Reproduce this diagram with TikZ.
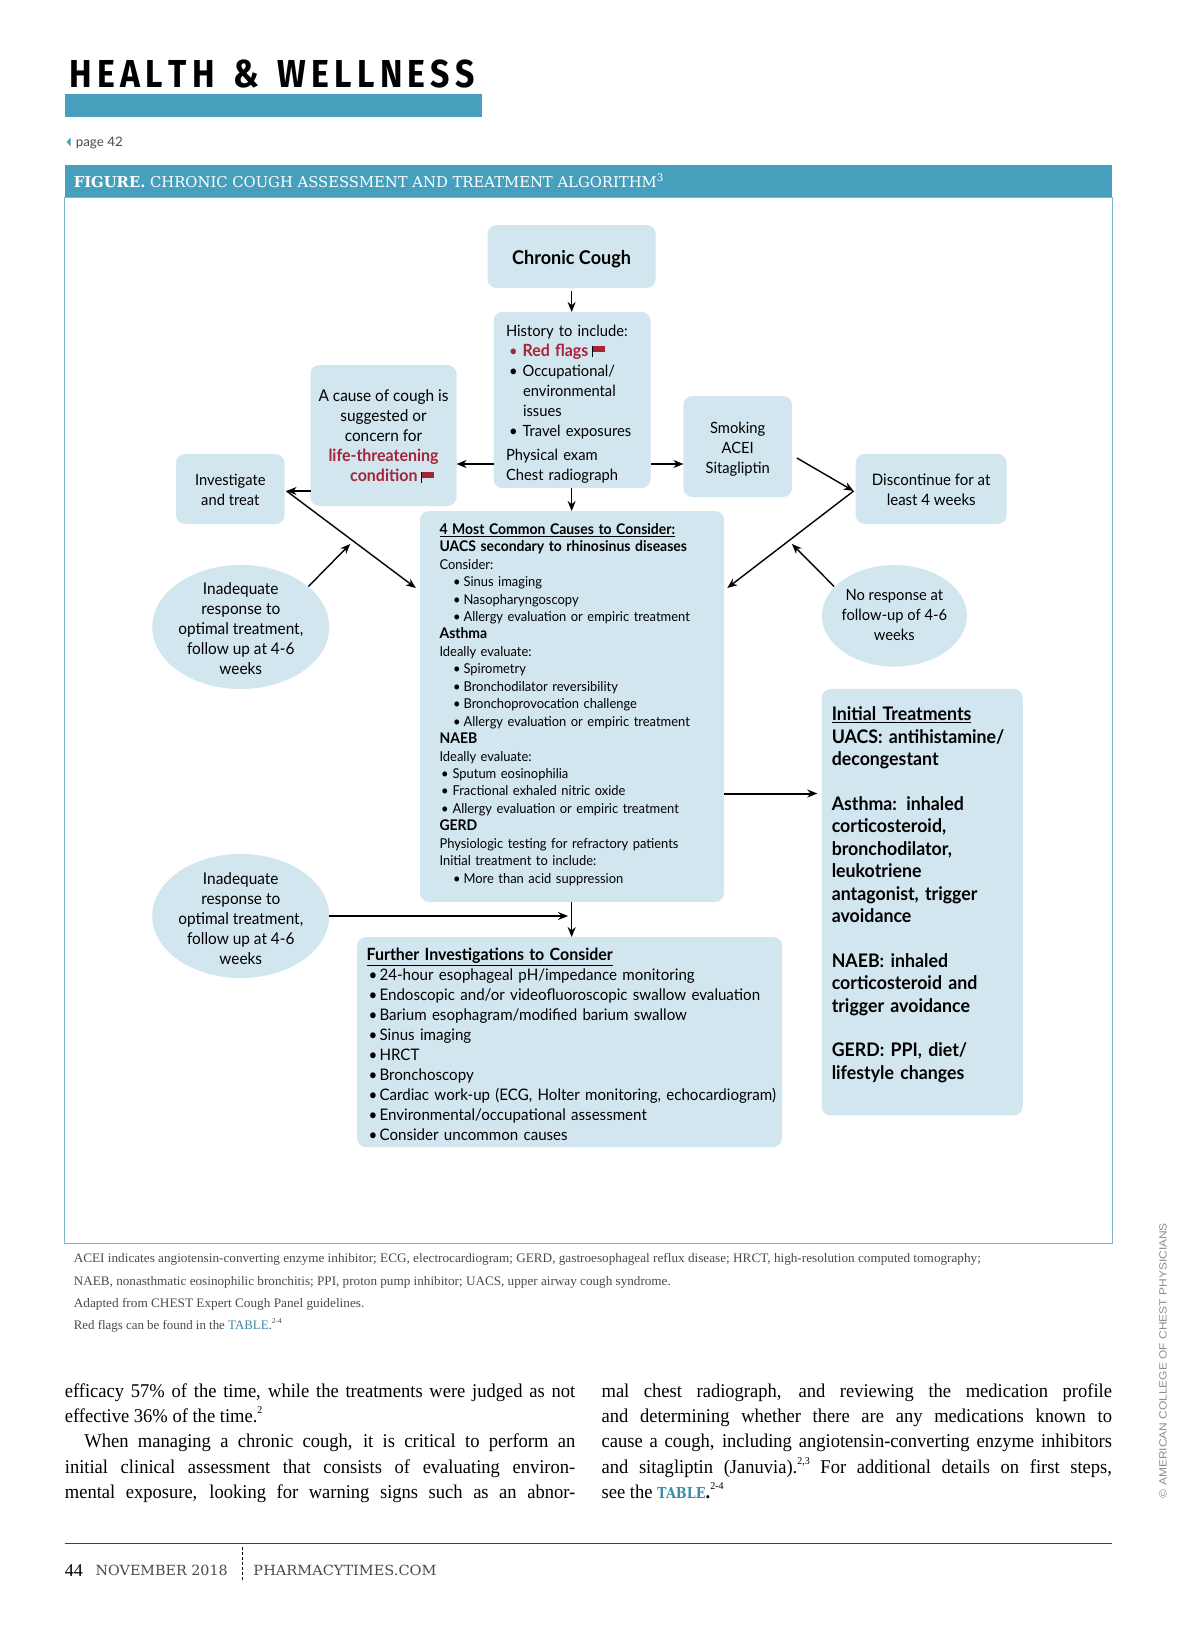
\documentclass[tikz,border=0pt]{standalone}
\usepackage{fontspec}
\usepackage{graphicx}
\setmainfont{Lato}[FakeStretch=0.95]
\newfontfamily\titlefont{Fira Sans}[FakeStretch=0.74]
\newfontfamily\slabfont{DejaVu Serif}
\newfontfamily\capfont{Liberation Serif}
\newfontfamily\bodyfont{Liberation Serif}[FakeStretch=0.95]
\newfontfamily\sidefont{Liberation Sans}
\usetikzlibrary{arrows.meta,shapes.geometric}
\definecolor{boxblue}{HTML}{D2E6F0}
\definecolor{barteal}{HTML}{469FBC}
\definecolor{linkteal}{HTML}{3A8CA8}
\definecolor{framec}{HTML}{7DB4CB}
\definecolor{flagred}{HTML}{A6243A}
\definecolor{greytxt}{HTML}{4A4A4A}
\newcommand\fitw[2]{\resizebox{#1}{\height}{#2}}
\newcommand\bu[2]{\hspace*{#1}\makebox[#2][l]{\textbullet}}
\newcommand\redflag{\kern3.5pt\rule[-1pt]{0.8pt}{11pt}\raisebox{4pt}{\textcolor{flagred}{\rule{12pt}{6pt}}}}
\newcommand\ovaltext[2]{\makebox[0pt]{\raisebox{#1}[0pt][0pt]{\parbox[c]{150pt}{\centering #2}}}}
\newcommand\jline[1]{\makebox[510.4pt][s]{#1}}
\newcommand\tup[1]{\rule{0pt}{#1}}
\newcommand\tdn[1]{\rule[-#1]{0pt}{0pt}}
\newcommand\mb[1]{{\fontsize{14.7}{17.45}\selectfont\bfseries #1}}
\newcommand\hb[1]{{\fontsize{16.8}{20}\selectfont\bfseries #1}}
\newcommand\supb[1]{\raisebox{0.42em}{\fontsize{10.5}{10.5}\selectfont #1}}
\newcommand\supc[1]{\raisebox{0.42em}{\fontsize{7.5}{7.5}\selectfont #1}}
\tikzset{
  box/.style={fill=boxblue,rounded corners=9pt,inner sep=0pt,outer sep=0pt,draw=none},
  leftbox/.style={box,align=left,inner xsep=#1},
  oval/.style={ellipse,fill=boxblue,inner sep=0pt,outer sep=0pt,minimum width=177pt,minimum height=124pt},
  arr/.style={-{Stealth[length=10pt,width=8pt]},line width=1.4pt,black},
  arrb/.style={arr,line width=2pt},
  diag/.style={font=\fontsize{15.5}{20}\selectfont},
  diagw/.style={font=\fontsize{16.2}{20}\selectfont},
  captxt/.style={anchor=base west,inner sep=0pt,font=\capfont\fontsize{13}{14}\selectfont,text=greytxt},
  bodytxt/.style={anchor=base west,inner sep=0pt,font=\bodyfont\fontsize{19.5}{24}\selectfont,text=black},
  foottxt/.style={anchor=base west,inner sep=0pt,font=\slabfont\fontsize{14}{18}\selectfont,text=greytxt},
}
\begin{document}
\begin{tikzpicture}[x=0.99488pt,y=-1pt]
\useasboundingbox (0,0) rectangle (1206.17,1638);
\fill[white] (0,0) rectangle (1206.17,1638);
% header
\node[anchor=base west,inner sep=0pt,font=\titlefont\bfseries\fontsize{39}{40}\selectfont] (title) at (70,87) {\fitw{405pt}{H\kern4.5pt E\kern4.5pt A\kern4.5pt L\kern4.5pt T\kern4.5pt H\kern16pt \&\kern16pt W\kern4.5pt E\kern4.5pt L\kern4.5pt L\kern4.5pt N\kern4.5pt E\kern4.5pt S\kern4.5pt S}};
\fill[barteal] (65,94) rectangle (484,117);
\fill[barteal] (71,137.5) -- (71,146.5) -- (67,142) -- cycle;
\node[anchor=base west,inner sep=0pt,font=\fontsize{13}{15}\selectfont,text=greytxt] (page) at (76,146) {\fitw{47pt}{page 42}};
% frame
\draw[framec,line width=1pt] (65,197) rectangle (1118,1243);
\fill[barteal] (65,165) rectangle (1118,197);
\node[anchor=base west,inner sep=0pt,text=white,font=\slabfont\fontsize{15}{18}\selectfont] (figtitle) at (74,187) {\fitw{590pt}{\textbf{FIGURE.} CHRONIC COUGH ASSESSMENT AND TREATMENT ALGORITHM\textsuperscript{3}}};
% boxes
\node[box,minimum width=168pt,minimum height=63pt,font=\bfseries\fontsize{19}{20}\selectfont] (cc) at (574.5,256.5) {\tup{20pt}Chronic Cough};
\node[leftbox=12.5pt,diag,text width=132pt,minimum height=176pt] (hist) at (575,400) {\tup{19.5pt}History to include:\\
\textcolor{flagred}{\bu{3pt}{13.5pt}\hb{Red flags}}\redflag\\
\bu{3pt}{13.5pt}Occupational/\\
\hspace*{17pt}environmental\\
\hspace*{17pt}issues\\
\bu{3pt}{13.5pt}Travel exposures\\[4pt]
Physical exam\\
Chest radiograph};
\node[box,diagw,align=center,minimum width=146pt,minimum height=141pt] (cause) at (385.5,435.5) {\tup{13.5pt}A cause of cough is\\suggested or\\concern for\\\textcolor{flagred}{\hb{life-threatening}}\\\hspace*{17pt}\textcolor{flagred}{\hb{condition}}\redflag};
\node[box,diag,align=center,minimum width=108.5pt,minimum height=101pt] (smoke) at (741.5,446.5) {\tup{16.2pt}Smoking\\ACEI\\Sitagliptin};
\node[box,diag,align=center,minimum width=108.5pt,minimum height=70pt] (inv) at (231.5,489) {\tup{13.5pt}Investigate\\and treat};
\node[box,align=center,minimum width=151pt,minimum height=70pt,font=\fontsize{15.8}{20}\selectfont] (disc) at (936,489) {\tup{13.5pt}Discontinue for at\\least 4 weeks};
\node[leftbox=19.5pt,text width=265pt,minimum height=391pt,font=\fontsize{13.6}{17.45}\selectfont] (main) at (575,706.5) {\mb{\underline{4 Most Common Causes to Consider:}}\\
\mb{UACS secondary to rhinosinus diseases}\\
Consider:\\
\bu{13.5pt}{10.5pt}Sinus imaging\\
\bu{13.5pt}{10.5pt}Nasopharyngoscopy\\
\bu{13.5pt}{10.5pt}Allergy evaluation or empiric treatment\\
\mb{Asthma}\\
Ideally evaluate:\\
\bu{13.5pt}{10.5pt}Spirometry\\
\bu{13.5pt}{10.5pt}Bronchodilator reversibility\\
\bu{13.5pt}{10.5pt}Bronchoprovocation challenge\\
\bu{13.5pt}{10.5pt}Allergy evaluation or empiric treatment\\
\mb{NAEB}\\
Ideally evaluate:\\
\bu{1.5pt}{11.5pt}Sputum eosinophilia\\
\bu{1.5pt}{11.5pt}Fractional exhaled nitric oxide\\
\bu{1.5pt}{11.5pt}Allergy evaluation or empiric treatment\\
\mb{GERD}\\
Physiologic testing for refractory patients\\
Initial treatment to include:\\
\bu{13.5pt}{10.5pt}More than acid suppression\tdn{6.5pt}};
\node[oval,diagw] (e1) at (242,627) {\ovaltext{-6pt}{Inadequate\\response to\\optimal treatment,\\follow up at 4-6\\weeks}};
\node[oval,diagw] (e2) at (242,916) {\ovaltext{-7pt}{Inadequate\\response to\\optimal treatment,\\follow up at 4-6\\weeks}};
\node[oval,diag,minimum width=145pt,minimum height=101.5pt] (e3) at (899,615.8) {\ovaltext{-3pt}{No response at\\follow-up of 4-6\\weeks}};
\node[leftbox=10pt,text width=181pt,minimum height=426.5pt,font=\bfseries\fontsize{18.7}{22.4}\selectfont] (init) at (927,902.2) {\underline{Initial Treatments}\\
UACS: antihistamine/\\decongestant\\[22.4pt]
Asthma: inhaled\\corticosteroid,\\bronchodilator,\\leukotriene\\antagonist, trigger\\avoidance\\[22.4pt]
NAEB: inhaled\\corticosteroid and\\trigger avoidance\\[22.4pt]
GERD: PPI, diet/\\lifestyle changes\tdn{18pt}};
\node[leftbox=9.5pt,text width=406pt,minimum height=210pt,font=\fontsize{15.9}{20}\selectfont] (fur) at (572.5,1042) {\tup{17pt}\hb{\underline{Further Investigations to Consider}}\\
\bu{2pt}{11pt}24-hour esophageal pH/impedance monitoring\\
\bu{2pt}{11pt}Endoscopic and/or videofluoroscopic swallow evaluation\\
\bu{2pt}{11pt}Barium esophagram/modified barium swallow\\
\bu{2pt}{11pt}Sinus imaging\\
\bu{2pt}{11pt}HRCT\\
\bu{2pt}{11pt}Bronchoscopy\\
\bu{2pt}{11pt}\mbox{Cardiac work-up (ECG, Holter monitoring, echocardiogram)}\\
\bu{2pt}{11pt}Environmental/occupational assessment\\
\bu{2pt}{11pt}Consider uncommon causes};
% connector ends
\coordinate (hubL) at (288,491);
\coordinate (hubR) at (858,491);
\coordinate (mainL) at (418,588);
\coordinate (mainR) at (731,588);
\coordinate (hubLup) at (352,544);
\coordinate (hubRup) at (796,544);
\coordinate (e1end) at (310,586.5);
\coordinate (e3end) at (838.5,586.5);
\coordinate (smokeend) at (801,458);
\coordinate (ccend) at (574.6,291);
\coordinate (initend) at (821.5,793.5);
\coordinate (e2end) at (571,916);
% connectors
\draw[arr] (ccend) -- (hist.north -| ccend);
\draw[arr] (hist.west |- 0,464) -- (cause.east |- 0,464);
\draw[arr] (hist.east |- 0,464) -- (smoke.west |- 0,464);
\draw[arr] (hist.south -| ccend) -- (main.north -| ccend);
\draw[arr] (cause.west |- hubL) -- (hubL);
\draw[arr] (hubL) -- (mainL);
\draw[arr] (e1end) -- (hubLup);
\draw[arr] (smokeend) -- (hubR);
\draw[arr] (hubR) -- (mainR);
\draw[arr] (e3end) -- (hubRup);
\draw[arrb] (main.east |- initend) -- (initend);
\draw[arrb] (e2.east) -- (e2end);
\draw[arr] (main.south -| ccend) -- (fur.north -| ccend);
% captions
\node[captxt] (c1) at (74,1262) {\fitw{907pt}{ACEI indicates angiotensin-converting enzyme inhibitor; ECG, electrocardiogram; GERD, gastroesophageal reflux disease; HRCT, high-resolution computed tomography;}};
\node[captxt] (c2) at (74,1285) {\fitw{597pt}{NAEB, nonasthmatic eosinophilic bronchitis; PPI, proton pump inhibitor; UACS, upper airway cough syndrome.}};
\node[captxt] (c3) at (74,1307) {\fitw{290.5pt}{Adapted from CHEST Expert Cough Panel guidelines.}};
\node[captxt] (c4) at (74,1329) {\fitw{208pt}{Red flags can be found in the \textcolor{linkteal}{TABLE}.\supc{2-4}}};
% body text
\node[bodytxt] (l1) at (65,1397) {\jline{efficacy 57\% of the time, while the treatments were judged as not}};
\node[bodytxt] (l2) at (65,1422) {effective 36\% of the time.\supb{2}};
\node[bodytxt] (l3) at (65,1447) {\jline{\hspace*{19.5pt}When managing a chronic cough, it is critical to perform an}};
\node[bodytxt] (l4) at (65,1473) {\jline{initial clinical assessment that consists of evaluating environ-}};
\node[bodytxt] (l5) at (65,1498) {\jline{mental exposure, looking for warning signs such as an abnor-}};
\node[bodytxt] (r1) at (604.5,1397) {\jline{mal chest radiograph, and reviewing the medication profile}};
\node[bodytxt] (r2) at (604.5,1422) {\jline{and determining whether there are any medications known to}};
\node[bodytxt] (r3) at (604.5,1447) {\jline{cause a cough, including angiotensin-converting enzyme inhibitors}};
\node[bodytxt] (r4) at (604.5,1473) {\jline{and sitagliptin (Januvia).\supb{2,3} For additional details on first steps,}};
\node[bodytxt] (r5) at (604.5,1498) {see the \textcolor{linkteal}{\slabfont\bfseries\fontsize{15}{18}\selectfont\fitw{48.5pt}{TABLE}}\textbf{.}\supb{2-4}};
% footer
\draw[black!75,line width=1.5pt] (65,1543.7) -- (1118,1543.7);
\draw[black,line width=0.8pt,densely dashed] (244,1547) -- (244,1582);
\node[foottxt,text=black,font=\capfont\fontsize{18}{18}\selectfont] (pn) at (65,1576) {44};
\node[foottxt] (month) at (96,1575) {\fitw{132pt}{NOVEMBER 2018}};
\node[foottxt] (site) at (254.6,1575) {\fitw{183pt}{PHARMACYTIMES.COM}};
\node[anchor=center,rotate=90,inner sep=0pt,text=black!45,font=\sidefont\fontsize{10.5}{14}\selectfont] (side) at (1169,1360.5) {\fitw{275pt}{\textcopyright{} AMERICAN COLLEGE OF CHEST PHYSICIANS}};
\end{tikzpicture}
\end{document}
